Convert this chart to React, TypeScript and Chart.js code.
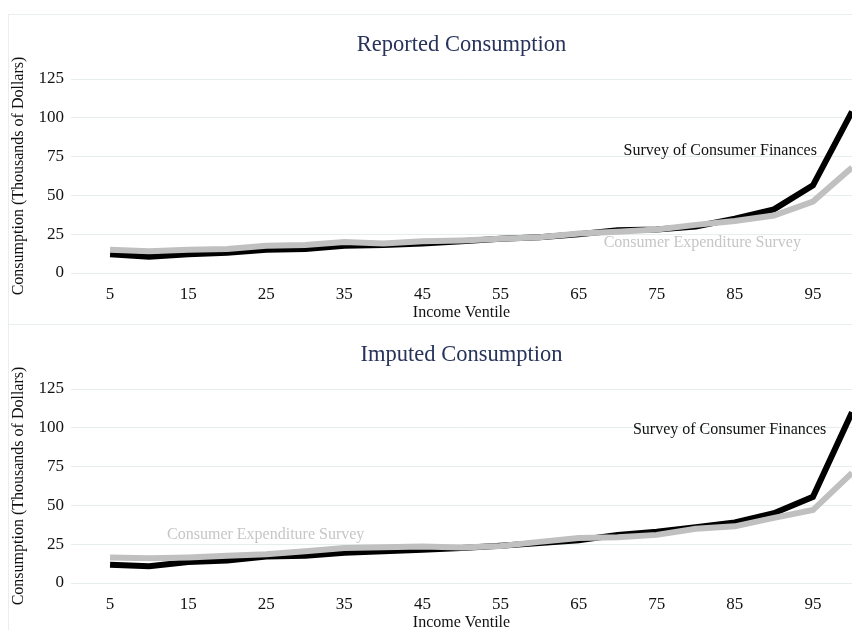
import React, { useEffect, useRef } from "react";
import { Chart, registerables } from "chart.js";

Chart.register(...registerables);

const ventiles = [5, 10, 15, 20, 25, 30, 35, 40, 45, 50, 55, 60, 65, 70, 75, 80, 85, 90, 95, 100];
const xTickValues = [5, 15, 25, 35, 45, 55, 65, 75, 85, 95];
const yTickValues = [0, 25, 50, 75, 100, 125];

const reportedSCF = [12, 10.5, 12, 13, 15, 15.5, 17.5, 18, 19, 20.5, 22, 23, 25, 27.5, 28, 30, 35, 41, 56.5, 104];
const reportedCEX = [15, 14, 15, 15.5, 17.5, 18, 20, 19, 20.5, 21, 22, 23, 25.5, 26.5, 28, 31, 33.5, 37, 46, 68];
const imputedSCF = [11.8, 10.8, 13.5, 14.5, 17, 17.5, 19.5, 20.5, 21.5, 22.5, 24, 25.7, 27.5, 31, 33, 36, 39, 45, 55.5, 110];
const imputedCEX = [16.5, 16, 16.5, 17.5, 18.5, 20.5, 22.5, 23, 23.5, 22.8, 23.8, 26.5, 29, 29.5, 31, 35, 36.5, 42, 47, 71];

const seriesNames = ["Survey of Consumer Finances", "Consumer Expenditure Survey"];
const panelTitles = ["Reported Consumption", "Imputed Consumption"];
const xAxisTitle = "Income Ventile";
const yAxisTitle = "Consumption (Thousands of Dollars)";

// annotation anchors in data units: [x, y]
const reportedLabelPos = [[95.5, 79], [68.2, 19.3]];
const imputedLabelPos = [[96.7, 98.6], [12.3, 31]];
const labelAlign = [["right", "left"], ["right", "left"]];

const SERIF = "'Liberation Serif', 'Times New Roman', serif";
const SCF_COLOR = "#000000";
const CEX_COLOR = "#c0c0c0";
const CEX_TEXT = "#c6c6c6";

function Panel({ title, scf, cex, labelPos, aligns }) {
  const ref = useRef(null);
  useEffect(() => {
    const annot = {
      id: "annot",
      afterDatasetsDraw(chart) {
        const { ctx } = chart;
        const xs = chart.scales.x;
        const ys = chart.scales.y;
        ctx.save();
        ctx.font = `16px ${SERIF}`;
        ctx.textBaseline = "middle";
        seriesNames.forEach((name, i) => {
          ctx.fillStyle = i === 0 ? "#111111" : CEX_TEXT;
          ctx.textAlign = aligns[i];
          ctx.fillText(name, xs.getPixelForValue(labelPos[i][0]), ys.getPixelForValue(labelPos[i][1]));
        });
        ctx.restore();
      },
    };
    const chart = new Chart(ref.current, {
      type: "line",
      data: {
        labels: ventiles,
        datasets: [
          {
            label: seriesNames[1],
            data: ventiles.map((v, i) => ({ x: v, y: cex[i] })),
            borderColor: CEX_COLOR,
            borderWidth: 6,
            pointRadius: 0,
            tension: 0,
          },
          {
            label: seriesNames[0],
            data: ventiles.map((v, i) => ({ x: v, y: scf[i] })),
            borderColor: SCF_COLOR,
            borderWidth: 6,
            pointRadius: 0,
            tension: 0,
          },
        ],
      },
      options: {
        responsive: false,
        animation: false,
        layout: { padding: 0 },
        plugins: {
          legend: { display: false },
          tooltip: { enabled: false },
          title: {
            display: true,
            text: title,
            color: "#27335a",
            fullSize: false,
            font: { family: SERIF, size: 22.5, weight: "normal" },
            padding: { top: 16.5, bottom: 20.5 },
          },
        },
        scales: {
          x: {
            type: "linear",
            min: 0,
            max: 100,
            afterBuildTicks: (s) => {
              s.ticks = xTickValues.map((v) => ({ value: v }));
            },
            afterFit: (s) => {
              s.height = 51;
            },
            ticks: {
              autoSkip: false,
              maxRotation: 0,
              color: "#111111",
              padding: 11,
              font: { family: SERIF, size: 17 },
              callback: (v) => String(v),
            },
            grid: { display: false, drawTicks: false },
            border: { display: false },
            title: {
              display: true,
              text: xAxisTitle,
              color: "#111111",
              font: { family: SERIF, size: 16 },
              padding: { top: 0, bottom: 2 },
            },
          },
          y: {
            min: 0,
            max: 125,
            afterBuildTicks: (s) => {
              s.ticks = yTickValues.map((v) => ({ value: v }));
            },
            afterFit: (s) => {
              s.width = 62;
            },
            ticks: {
              color: "#111111",
              padding: 7,
              font: { family: SERIF, size: 17 },
              callback: (v) => String(v),
            },
            grid: { color: "#e6eded", lineWidth: 1, drawTicks: false },
            border: { display: false },
            title: {
              display: true,
              text: yAxisTitle,
              color: "#111111",
              font: { family: SERIF, size: 16 },
              padding: 0,
            },
          },
        },
      },
      plugins: [annot],
    });
    return () => chart.destroy();
  }, []);
  return (
    <div style={{ borderTop: "1px solid #e9eeee", borderLeft: "1px solid #e9eeee", height: 309 }}>
      <canvas ref={ref} width={843} height={309} style={{ display: "block" }} />
    </div>
  );
}

export default function App() {
  return (
    <div style={{ position: "fixed", left: 8, top: 14, width: 844, height: 630, background: "#fff" }}>
      <Panel title={panelTitles[0]} scf={reportedSCF} cex={reportedCEX} labelPos={reportedLabelPos} aligns={labelAlign[0]} />
      <Panel title={panelTitles[1]} scf={imputedSCF} cex={imputedCEX} labelPos={imputedLabelPos} aligns={labelAlign[1]} />
    </div>
  );
}
